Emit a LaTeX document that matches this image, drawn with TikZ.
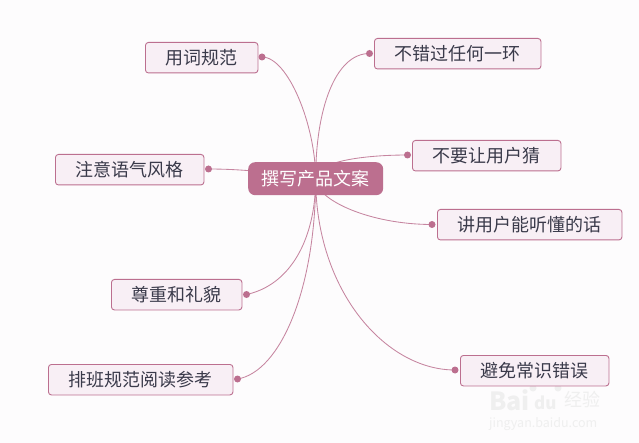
\documentclass[tikz,border=0pt]{standalone}
\usepackage{fontspec}
\setmainfont{Noto Sans CJK SC}
\usetikzlibrary{backgrounds}
\definecolor{rose}{HTML}{BC6F8F}
\definecolor{pale}{HTML}{F8EFF5}
\definecolor{paper}{HTML}{FDFCFD}
\definecolor{ink}{HTML}{3A3A4A}
\definecolor{wm}{HTML}{EFEFEF}
\tikzset{
  leaf/.style={draw=rose,fill=pale,line width=0.9pt,rounded corners=3pt,inner sep=0pt,anchor=north west,text=ink,font=\fontsize{18}{20}\selectfont,align=center},
  hub/.style={fill=rose,rounded corners=7pt,inner sep=0pt,anchor=north west,text=white,font=\fontsize{18}{20}\selectfont,align=center,minimum width=135pt,minimum height=33pt},
  dot/.style={circle,fill=rose,inner sep=0pt,minimum size=7pt},
  link/.style={draw=rose!85!white,line width=0.85pt},
  wmtext/.style={text=wm,inner sep=0pt,anchor=west}
}
\begin{document}
\begin{tikzpicture}[x=1pt,y=-1pt]
\useasboundingbox (0,0) rectangle (639,443);
% watermark
\node[wmtext,font=\fontsize{25}{25}\selectfont\bfseries] (wma) at (489,400) {Bai};
\node[wmtext,font=\fontsize{17}{17}\selectfont\bfseries] (wmb) at (534,403) {du};
\node[wmtext,font=\fontsize{18}{18}\selectfont] (wmc) at (564,400) {经验};
\node[wmtext,font=\fontsize{12.5}{13}\selectfont] (wmd) at (489,424) {jingyan.baidu.com};
\fill[wm] (533,388) circle (3.5pt) (541,380) circle (3.5pt) (551,380) circle (3.5pt) (558,388) circle (3.5pt);
% hub
\node[hub] (center) at (248,162) {撰写产品文案};
% leaves
\node[leaf,minimum width=112.5pt,minimum height=30.5pt] (a) at (145,42) {用词规范};
\node[leaf,minimum width=148.5pt,minimum height=30.5pt] (b) at (55,154) {注意语气风格};
\node[leaf,minimum width=130.5pt,minimum height=30.5pt] (c) at (111,279) {尊重和礼貌};
\node[leaf,minimum width=184.5pt,minimum height=30.5pt] (d) at (48,364) {排班规范阅读参考};
\node[leaf,minimum width=166.5pt,minimum height=30.5pt] (e) at (374,38) {不错过任何一环};
\node[leaf,minimum width=148.5pt,minimum height=30.5pt] (f) at (412,140) {不要让用户猜};
\node[leaf,minimum width=184.5pt,minimum height=30.5pt] (g) at (437,209) {讲用户能听懂的话};
\node[leaf,minimum width=148.5pt,minimum height=30.5pt] (h) at (460,355) {避免常识错误};
% dots
\node[dot] (da) at (262,57) {};
\node[dot] (db) at (208.5,169) {};
\node[dot] (dc) at (246.5,294.5) {};
\node[dot] (dd) at (237.5,379) {};
\node[dot] (de) at (369.5,53.5) {};
\node[dot] (df) at (407.5,155) {};
\node[dot] (dg) at (432,224.5) {};
\node[dot] (dh) at (455,370) {};
% connectors
\begin{scope}[on background layer]
\fill[paper] (0,0) rectangle (639,443);
\path[link] (center.center) .. controls (315.5,125) and (288,57) .. (da.center);
\path[link] (center.center) .. controls (270,172) and (240,169) .. (db.center);
\path[link] (center.center) .. controls (315.5,240) and (290,285) .. (dc.center);
\path[link] (center.center) .. controls (315.5,290) and (280,372) .. (dd.center);
\path[link] (center.center) .. controls (315.5,110) and (335,53.5) .. (de.center);
\path[link] (center.center) .. controls (315.5,160) and (370,155) .. (df.center);
\path[link] (center.center) .. controls (315.5,200) and (370,224.5) .. (dg.center);
\path[link] (center.center) .. controls (315.5,290) and (385,370) .. (dh.center);
\end{scope}
\end{tikzpicture}
\end{document}
